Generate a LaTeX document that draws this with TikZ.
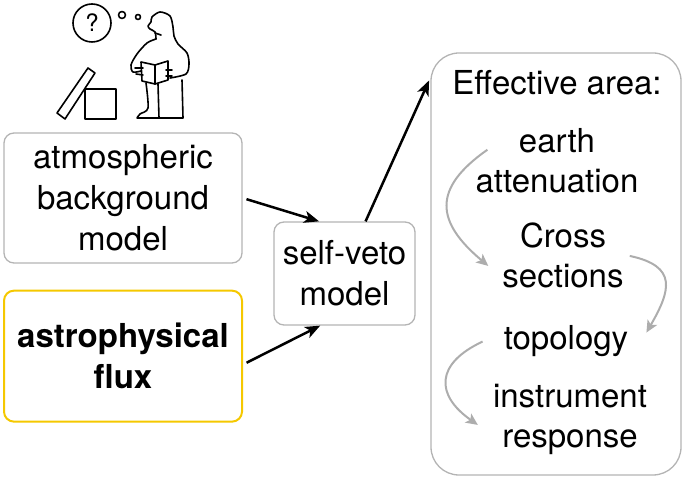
\documentclass[tikz,border=0pt]{standalone}
\usepackage{fontspec}
\setmainfont{TeX Gyre Heros}
\usetikzlibrary{arrows.meta}
\usetikzlibrary{positioning}
\definecolor{boxgray}{HTML}{B4B4B4}
\definecolor{fluxyellow}{HTML}{F5C800}
\definecolor{stepgray}{HTML}{ADADAD}
\tikzset{
    block/.style={
           rectangle,
           rounded corners=10pt,
           draw=boxgray, line width=1.3pt,
           align=center,
           font=\fontsize{33}{41}\selectfont,
           inner sep=0pt,
           },
    item/.style={
           align=center,
           font=\fontsize{33}{40}\selectfont,
           inner sep=0pt,
           },
    feed/.style={-{Stealth[length=15pt,width=12pt,inset=4pt]}, line width=2.5pt},
    chain/.style={-{Stealth[length=12pt,width=11pt,inset=3pt]}, draw=stepgray, line width=2pt},
    sketch/.style={line width=1.6pt, line join=round, line cap=round},
}

\begin{document}
\begin{tikzpicture}[x=1pt,y=1pt]

    \useasboundingbox (0,0) rectangle (687,476);

    % the model boxes
    \node[block,minimum width=238pt,minimum height=130pt] at (123,278)
        (atm) {atmospheric\\background\\model};
    \node[block,draw=fluxyellow,line width=2pt,minimum width=238pt,minimum height=131pt,
          font=\fontsize{33}{41}\selectfont\bfseries,below=26pt of atm]
        (astro) {astrophysical\\flux};
    \node[block,minimum width=141pt,minimum height=103pt] at (344.5,202.5)
        (sv) {self-veto\\model};
    \node[block,rounded corners=28pt,minimum width=250pt,minimum height=422pt] at (556,212)
        (eff) {};

    % what goes into the effective area (base = last line)
    \node[item,anchor=base] at (557,381) (head) {Effective area:};
    \node[item,anchor=base] at (557,283) (ea) {earth\\attenuation};
    \node[item,anchor=base] at (563,188) (cs) {Cross\\sections};
    \node[item,anchor=base] at (566,126) (topo) {topology};
    \node[item,anchor=base] at (570,28) (ir) {instrument\\response};

    \draw[feed, shorten <=4pt] (atm.east) -- (sv.116);
    \draw[feed, shorten <=4pt] (astro.356) -- (sv.245);
    \draw[feed, shorten >=3pt] (sv.68) -- (eff.124);

    \draw[chain] ([xshift=12pt]ea.172) to[out=215,in=140,looseness=1.5] ([shift={(-14pt,-10pt)}]cs.west);
    \draw[chain] ([xshift=6pt]cs.east) to[out=-12,in=60,looseness=1.6] ([shift={(18pt,9pt)}]topo.east);
    \draw[chain] ([xshift=-21pt]topo.west) to[out=205,in=145,looseness=1.6] ([shift={(-15pt,-5pt)}]ir.west);

    % the puzzled reader with the open box
    \draw[sketch] (92,453) circle (19pt);
    \node[font=\fontsize{24}{24}\selectfont] at (92,453) (qm) {?};
    \draw[sketch] (122,461) circle (3.5pt);
    \draw[sketch] (138,459) circle (2.5pt);
    \draw[sketch] (85,357) rectangle (116,387);
    \draw[sketch] (57,363) -- (65,357) -- (95,403) -- (88,408) -- cycle;
    \draw[sketch] plot[smooth] coordinates {(156,437) (155,444) (150,447) (148,450) (151,454)
        (152,459) (160,464) (170,460) (173,449) (174,440) (178,432) (187,423) (189,412)
        (186,402) (170,398)};
    \draw[sketch] plot[smooth] coordinates {(156,437) (147,433) (137,422) (131,411) (133,404) (141,405)};
    \draw[sketch] (155,443) -- (161,441);
    \draw[sketch] (141,414) -- (155,411) -- (168,415) -- (168,396) -- (155,392) -- (142,395) -- cycle;
    \draw[sketch] (155,411) -- (155,392);
    \draw[sketch] (135,408) -- (143,408);
    \draw[sketch] (136,402) -- (143,401);
    \draw[sketch] (166,406) -- (172,406);
    \draw[sketch] (166,400) -- (172,400);
    \draw[sketch] plot[smooth] coordinates {(146,393) (148,368) (140,362) (137,358)}
        -- (183,358) -- (182,396);
    \draw[sketch] (158,392) -- (159,358);

\end{tikzpicture}
\end{document}
